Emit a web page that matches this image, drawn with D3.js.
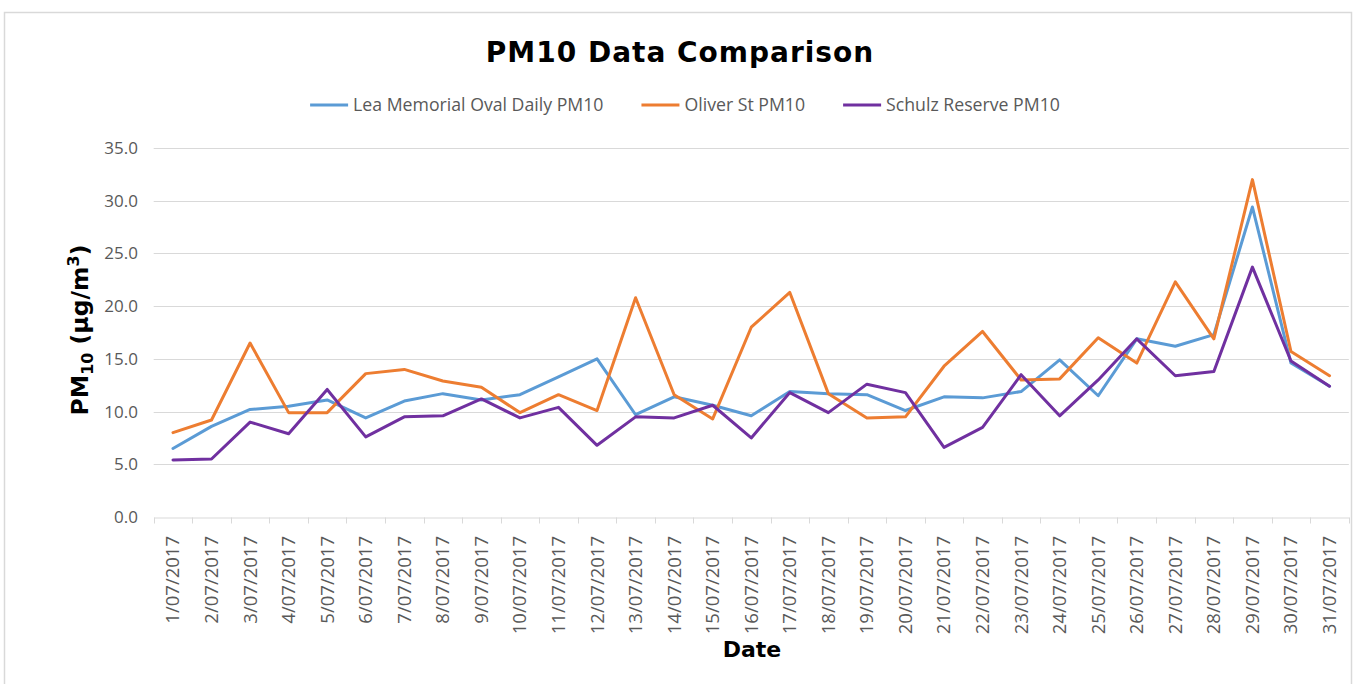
<!DOCTYPE html>
<head>
  <meta charset="utf-8">
  <script src="https://d3js.org/d3.v7.min.js"></script>
  <style>
    body { margin: 0; background: #fff; }
    text { font-family: "Open Sans", sans-serif; }
  </style>
</head>
<body>
  <svg width="1355" height="684"></svg>
  <script>
    // data, July 2017
    const dates = d3.range(1, 32).map(d => d + "/07/2017");
    const leaMemorial = [6.5, 8.6, 10.2, 10.5, 11.1, 9.4, 11.0, 11.7, 11.1, 11.6, 13.3, 15.0, 9.7, 11.4, 10.6,
      9.6, 11.9, 11.7, 11.6, 10.1, 11.4, 11.3, 11.9, 14.9, 11.5, 16.9, 16.2, 17.3, 29.4, 14.6, 12.4];
    const oliverSt = [8.0, 9.2, 16.5, 9.9, 9.9, 13.6, 14.0, 12.9, 12.3, 9.9, 11.6, 10.1, 20.8, 11.6, 9.3,
      18.0, 21.3, 11.7, 9.4, 9.5, 14.3, 17.6, 13.0, 13.1, 17.0, 14.6, 22.3, 16.9, 32.0, 15.7, 13.4];
    const schulzReserve = [5.4, 5.5, 9.0, 7.9, 12.1, 7.6, 9.5, 9.6, 11.2, 9.4, 10.4, 6.8, 9.5, 9.4, 10.6,
      7.5, 11.8, 9.9, 12.6, 11.8, 6.6, 8.5, 13.5, 9.6, 13.0, 16.9, 13.4, 13.8, 23.7, 14.8, 12.4];
    const seriesNames = ["Lea Memorial Oval Daily PM10", "Oliver St PM10", "Schulz Reserve PM10"];
    const seriesColors = ["#5B9BD5", "#ED7D31", "#7030A0"];
    const yTicks = [0, 5, 10, 15, 20, 25, 30, 35];

    const series = [leaMemorial, oliverSt, schulzReserve];
    const svg = d3.select("svg");
    const grey = "#595959";

    // chart frame
    svg.append("rect")
      .attr("x", 4.5).attr("y", 12.5)
      .attr("width", 1347).attr("height", 700)
      .attr("fill", "#fff").attr("stroke", "#D9D9D9").attr("stroke-width", 1.5);

    const x = d3.scaleBand().domain(dates).range([153.7, 1348.8]).padding(0);
    const y = d3.scaleLinear().domain([0, 35]).range([517, 148]);

    // gridlines
    svg.append("g").selectAll("line")
      .data(yTicks.slice(1))
      .join("line")
      .attr("x1", 153.7).attr("x2", 1348.8)
      .attr("y1", d => Math.round(y(d)) + 0.5).attr("y2", d => Math.round(y(d)) + 0.5)
      .attr("stroke", "#D9D9D9").attr("stroke-width", 1);

    // y tick labels
    svg.append("g").selectAll("text")
      .data(yTicks)
      .join("text")
      .attr("x", 138).attr("y", d => y(d))
      .attr("dy", "0.35em")
      .attr("text-anchor", "end")
      .attr("font-size", 17)
      .attr("fill", grey)
      .text(d => d3.format(".1f")(d));

    // x axis
    const xAxis = svg.append("g")
      .attr("transform", `translate(0,${Math.round(y(0)) + 0.5})`)
      .call(d3.axisBottom(x).tickSize(0).tickFormat(""));
    xAxis.select(".domain").attr("stroke", "#D9D9D9");
    const bounds = dates.map(d => x(d)).concat([x.range()[1]]);
    xAxis.selectAll(".bound")
      .data(bounds)
      .join("line")
      .attr("x1", d => Math.round(d) + 0.5).attr("x2", d => Math.round(d) + 0.5)
      .attr("y1", 0).attr("y2", 6)
      .attr("stroke", "#D9D9D9");

    svg.append("g").selectAll("text")
      .data(dates)
      .join("text")
      .attr("transform", d => `translate(${x(d) + x.bandwidth() / 2},536) rotate(-90)`)
      .attr("dy", "0.35em")
      .attr("text-anchor", "end")
      .attr("font-size", 18.5)
      .attr("fill", grey)
      .text(d => d);

    // lines
    const line = d3.line()
      .x((d, i) => x(dates[i]) + x.bandwidth() / 2)
      .y(d => y(d));
    svg.append("g").selectAll("path")
      .data(series)
      .join("path")
      .attr("d", line)
      .attr("fill", "none")
      .attr("stroke", (d, i) => seriesColors[i])
      .attr("stroke-width", 3)
      .attr("stroke-linejoin", "round")
      .attr("stroke-linecap", "round");

    // title
    svg.append("text")
      .attr("x", 680).attr("y", 62)
      .attr("text-anchor", "middle")
      .attr("font-size", 28)
      .attr("font-weight", "bold")
      .attr("letter-spacing", 1)
      .style("font-family", "'DejaVu Sans', sans-serif")
      .text("PM10 Data Comparison");

    // legend
    const legend = svg.append("g");
    let lx = 0;
    seriesNames.forEach((name, i) => {
      const g = legend.append("g").attr("transform", `translate(${lx},0)`);
      g.append("line")
        .attr("x1", 0).attr("x2", 38).attr("y1", 0).attr("y2", 0)
        .attr("stroke", seriesColors[i]).attr("stroke-width", 3);
      const t = g.append("text")
        .attr("x", 43).attr("dy", "0.35em")
        .attr("font-size", 17.7)
        .attr("fill", grey)
        .text(name);
      lx += 43 + t.node().getComputedTextLength() + 38;
    });
    const legendWidth = lx - 38;
    legend.attr("transform", `translate(${685 - legendWidth / 2},105)`);

    // axis titles
    const yTitle = svg.append("text")
      .attr("transform", "translate(88,330) rotate(-90)")
      .attr("text-anchor", "middle")
      .attr("font-size", 23.5)
      .attr("font-weight", "bold")
      .style("font-family", "'DejaVu Sans', sans-serif");
    yTitle.append("tspan").text("PM");
    yTitle.append("tspan").attr("font-size", 16).attr("dy", 5).text("10");
    yTitle.append("tspan").attr("dy", -5).text(" (µg/m");
    yTitle.append("tspan").attr("font-size", 16).attr("dy", -9).text("3");
    yTitle.append("tspan").attr("dy", 9).text(")");

    svg.append("text")
      .attr("x", 752).attr("y", 657)
      .attr("text-anchor", "middle")
      .attr("font-size", 22)
      .attr("font-weight", "bold")
      .style("font-family", "'DejaVu Sans', sans-serif")
      .text("Date");
  </script>
</body>
